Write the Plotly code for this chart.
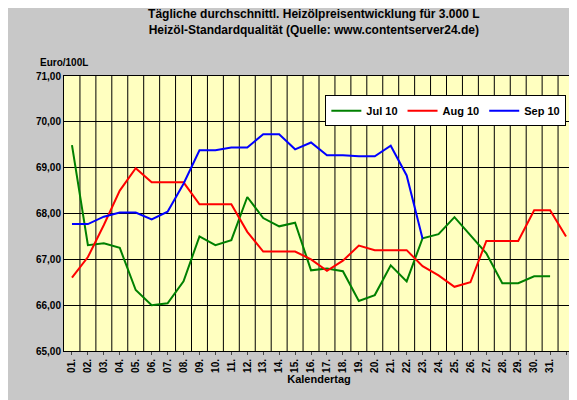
import plotly.graph_objects as go

DAYS = list(range(1, 33))
TICK_LABELS = [f"{d:02d}." for d in range(1, 32)] + [""]

JUL = [69.49, 67.31, 67.35, 67.25, 66.33, 66.0, 66.04, 66.52, 67.5, 67.31, 67.42,
       68.36, 67.9, 67.72, 67.8, 66.76, 66.8, 66.74, 66.09, 66.22, 66.87, 66.52, 67.46,
       67.55, 67.92, 67.53, 67.13, 66.48, 66.48, 66.63, 66.63]
AUG = [66.6, 67.05, 67.75, 68.5, 68.99, 68.68, 68.68, 68.68, 68.2, 68.2, 68.2, 67.6,
       67.17, 67.17, 67.17, 67.0, 66.75, 66.97, 67.3, 67.2, 67.2, 67.2, 66.85, 66.65,
       66.4, 66.5, 67.4, 67.4, 67.4, 68.07, 68.07, 67.5]
SEP = [67.77, 67.77, 67.93, 68.02, 68.02, 67.87, 68.04, 68.65, 69.38, 69.38, 69.44,
       69.44, 69.73, 69.73, 69.4, 69.55, 69.27, 69.27, 69.25, 69.25, 69.48, 68.83, 67.45]

BOLD = dict(family="Arial, Liberation Sans", weight="bold", color="black")

fig = go.Figure()
# vertical grid between categories
fig.add_trace(go.Scatter(x=[d + 0.5 for d in DAYS[:-1] for _ in range(3)],
                         y=[v for _ in DAYS[:-1] for v in (65, 71, None)],
                         mode="lines", line=dict(color="black", width=1),
                         showlegend=False, hoverinfo="skip"))
for name, vals, col in [("Jul 10", JUL, "#008000"), ("Aug 10", AUG, "#ff0000"), ("Sep 10", SEP, "#0000ff")]:
    fig.add_trace(go.Scatter(x=DAYS[:len(vals)], y=vals, mode="lines", name=name,
                             line=dict(color=col, width=2)))

fig.update_layout(
    width=577, height=400,
    paper_bgcolor="#c8c8c8", plot_bgcolor="#ffffc0",
    margin=dict(l=56, r=11, t=68, b=57),
    font=dict(family="Arial, Liberation Sans", size=11, color="black"),
    title=dict(text="Tägliche durchschnittl. Heizölpreisentwicklung für 3.000 L<br>Heizöl-Standardqualität (Quelle: www.contentserver24.de)",
               x=0.53, xanchor="center", xref="container", y=0.975, yref="container",
               yanchor="top", font=dict(size=12, **BOLD)),
    showlegend=True,
    legend=dict(orientation="h", x=0.985, xanchor="right", y=0.93, yanchor="top",
                bgcolor="white", bordercolor="black", borderwidth=1,
                font=dict(size=11, **BOLD), traceorder="normal"),
    xaxis=dict(range=[0.5, 32.5], tickmode="array", tickvals=DAYS, ticktext=TICK_LABELS,
               tickangle=-90, showgrid=False, showline=True, linecolor="black", mirror=True,
               tickfont=dict(size=10, **BOLD), ticks="outside", ticklen=3,
               title=dict(text="Kalendertag", standoff=2, font=dict(size=11, **BOLD))),
    yaxis=dict(range=[65, 71], dtick=1, tickformat=".2f",
               gridcolor="black", gridwidth=1, showline=True, linecolor="black", mirror=True,
               tickfont=dict(size=10, **BOLD)),
    separators=",.",
    annotations=[dict(text="Euro/100L", x=0.0, y=1.02, xref="paper", yref="paper",
                      xanchor="center", yanchor="bottom", showarrow=False,
                      font=dict(size=10, **BOLD))],
)
fig.write_html("out.html")
